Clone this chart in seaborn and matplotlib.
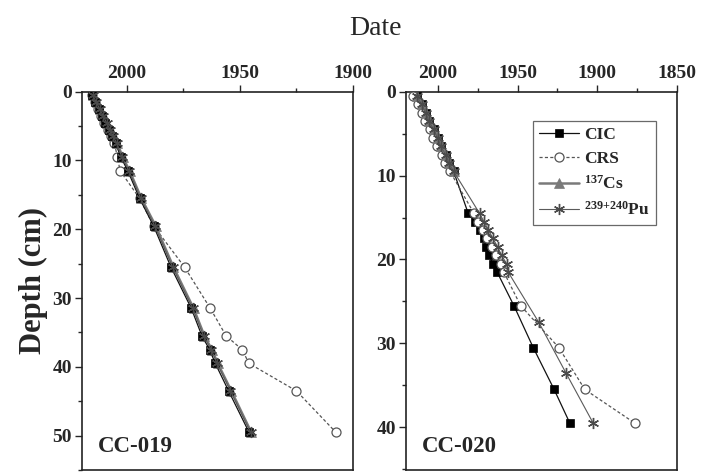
import matplotlib
matplotlib.use("Agg")
import matplotlib.pyplot as plt
import seaborn as sns
import numpy as np
from matplotlib.ticker import MultipleLocator

# ---------------- data ----------------
# CC-019
d19_cic = [0.5, 1.5, 2.5, 3.5, 4.5, 5.5, 6.5, 7.5, 9.5, 11.5, 15.5, 19.5, 25.5, 31.5, 35.5, 37.5, 39.5, 43.5, 49.5]
y19_cic = [2015.5, 2014.0, 2012.5, 2011.0, 2009.5, 2008.0, 2006.5, 2005.0, 2002.7, 1999.6, 1994.4, 1988.2,
           1980.5, 1971.5, 1966.8, 1963.4, 1960.9, 1955.0, 1946.0]
d19_crs = [0.5, 1.5, 2.5, 3.5, 4.5, 5.5, 6.5, 7.5, 9.5, 11.5, 15.5, 19.5, 25.5, 31.5, 35.5, 37.5, 39.5, 43.5, 49.5]
y19_crs = [2015.6, 2014.2, 2012.8, 2011.3, 2009.9, 2008.4, 2006.9, 2005.5, 2004.2, 2003.0, 1994.4, 1988.2,
           1974.5, 1963.1, 1956.1, 1949.0, 1946.0, 1925.0, 1907.6]
d19_cs = [0.5, 1.5, 2.5, 3.5, 4.5, 5.5, 6.5, 7.5, 9.5, 11.5, 15.5, 19.5, 25.5, 31.5, 35.5, 37.5, 39.5, 43.5, 49.5]
y19_cs = [2014.8, 2013.3, 2011.7, 2010.2, 2008.7, 2007.2, 2005.7, 2004.2, 2001.9, 1998.8, 1993.6, 1987.3,
           1979.4, 1970.5, 1965.7, 1962.4, 1959.8, 1953.8, 1945.0]
d19_pu = [0.5, 1.5, 2.5, 3.5, 4.5, 5.5, 6.5, 7.5, 9.5, 11.5, 15.5, 19.5, 25.5, 31.5, 35.5, 37.5, 39.5, 43.5, 49.5]
y19_pu = [2015.1, 2013.6, 2012.0, 2010.5, 2009.0, 2007.5, 2006.0, 2004.5, 2002.2, 1999.1, 1993.9, 1987.7,
           1979.8, 1970.9, 1966.1, 1962.7, 1960.1, 1954.2, 1945.3]

# CC-020
d20_cic = [0.5, 1.5, 2.5, 3.5, 4.5, 5.5, 6.5, 7.5, 8.5, 9.5, 14.5, 15.5, 16.5, 17.5, 18.5, 19.5, 20.5, 21.5,
           25.5, 30.5, 35.5, 39.5]
y20_cic = [2013.0, 2010.0, 2007.5, 2005.5, 2002.5, 2000.0, 1998.0, 1995.0, 1993.0, 1990.0,
           1980.9, 1976.7, 1973.5, 1971.0, 1969.8, 1967.7, 1965.6, 1962.8,
           1952.3, 1940.2, 1927.1, 1917.3]
d20_crs = [0.5, 1.5, 2.5, 3.5, 4.5, 5.5, 6.5, 7.5, 8.5, 9.5, 14.5, 15.5, 16.5, 17.5, 18.5, 19.5, 20.5, 21.5,
           25.5, 30.5, 35.5, 39.5]
y20_crs = [2015.4, 2012.3, 2010.0, 2008.0, 2004.8, 2002.7, 2000.6, 1997.4, 1995.4, 1992.3,
           1977.3, 1974.5, 1971.7, 1968.9, 1966.0, 1963.6, 1960.6, 1958.6,
           1948.1, 1924.2, 1907.9, 1876.7]
d20_cs = [0.5, 1.5, 2.5, 3.5, 4.5, 5.5, 6.5, 7.5, 8.5, 9.5]
y20_cs = [2013.0, 2010.0, 2007.5, 2005.5, 2002.5, 2000.0, 1998.0, 1995.0, 1993.0, 1990.0]
d20_pu = [0.5, 1.5, 2.5, 3.5, 4.5, 5.5, 6.5, 7.5, 8.5, 9.5, 14.5, 15.5, 16.5, 17.5, 18.5, 19.5, 20.5, 21.5,
          27.5, 33.5, 39.5]
y20_pu = [2013.0, 2010.0, 2007.5, 2005.5, 2002.5, 2000.0, 1998.0, 1995.0, 1993.0, 1990.0,
          1973.8, 1971.0, 1968.2, 1965.4, 1962.5, 1960.0, 1956.9, 1955.9,
          1936.7, 1919.8, 1902.7]

labels = ["CIC", "CRS", r"$\mathbf{^{137}}$Cs", r"$\mathbf{^{239{+}240}}$Pu"]
panel_names = ["CC-019", "CC-020"]
x_ticks = [[2000, 1950, 1900], [2000, 1950, 1900, 1850]]

# ---------------- style ----------------
sns.set_style("ticks")
plt.rcParams["font.family"] = ["Liberation Serif", "DejaVu Serif"]
plt.rcParams["mathtext.fontset"] = "custom"
plt.rcParams["mathtext.rm"] = "Liberation Serif"
plt.rcParams["mathtext.bf"] = "Liberation Serif:bold"

fig = plt.figure(figsize=(7.12, 4.76), dpi=100)
ax1 = fig.add_axes([0.1147, 0.0126, 0.381, 0.7948])
ax2 = fig.add_axes([0.5698, 0.0126, 0.3815, 0.7948])

styles = [
    dict(color="#111111", marker="s", linestyle="-", linewidth=0.9, markersize=6,
         markerfacecolor="#000000", markeredgecolor="#000000", markeredgewidth=0.5),
    dict(color="#555555", marker="o", linestyle=(0, (2.5, 1.8)), linewidth=0.9, markersize=6.5,
         markerfacecolor="white", markeredgecolor="#555555", markeredgewidth=0.9),
    dict(color="#7a7a7a", marker="^", linestyle="-", linewidth=1.8, markersize=6.5,
         markerfacecolor="#7a7a7a", markeredgecolor="#7a7a7a", markeredgewidth=0.5),
    dict(color="#5a5a5a", marker=(6, 2, 0), linestyle="-", linewidth=0.8, markersize=8,
         markeredgecolor="#4a4a4a", markeredgewidth=1.0),
]

series = [
    [(y19_cic, d19_cic), (y19_crs, d19_crs), (y19_cs, d19_cs), (y19_pu, d19_pu)],
    [(y20_cic, d20_cic), (y20_crs, d20_crs), (y20_cs, d20_cs), (y20_pu, d20_pu)],
]
zorders = [[5, 3, 4, 6], [3, 4, 5, 6]]

for k, (ax, ser) in enumerate(zip([ax1, ax2], series)):
    for i in range(4):
        xs, ys = ser[i]
        sns.lineplot(x=xs, y=ys, ax=ax, sort=False, estimator=None,
                     label=labels[i], legend=False, zorder=zorders[k][i], **styles[i])

ax1.set_xlim(2020, 1900)
ax1.set_ylim(55, 0)
ax2.set_xlim(2020, 1850)
ax2.set_ylim(45.1, 0)

for k, ax in enumerate([ax1, ax2]):
    ax.xaxis.tick_top()
    ax.set_xticks(x_ticks[k])
    ax.xaxis.set_minor_locator(MultipleLocator(25))
    ax.yaxis.set_major_locator(MultipleLocator(10))
    ax.yaxis.set_minor_locator(MultipleLocator(5))
    ax.tick_params(axis="both", which="major", direction="out", length=5, width=1.0,
                   labelsize=14, pad=2)
    ax.tick_params(axis="both", which="minor", direction="out", length=3, width=1.0)
    ax.tick_params(axis="x", which="both", top=True, bottom=False)
    ax.tick_params(axis="y", which="both", left=True, right=False)
    for lab in ax.get_xticklabels() + ax.get_yticklabels():
        lab.set_fontweight("bold")
    for sp in ax.spines.values():
        sp.set_visible(True)
        sp.set_linewidth(1.2)
        sp.set_color("#222222")
    ax.set_xlabel("")
    ax.set_ylabel("")
    ax.text(0.06, 0.035, panel_names[k], transform=ax.transAxes, fontsize=16.5,
            fontweight="bold", ha="left", va="bottom")

ax1.set_ylabel("Depth (cm)", fontsize=22, fontweight="bold", labelpad=3)

handles, labs = ax2.get_legend_handles_labels()
hmap = dict(zip(labs, handles))
leg = ax2.legend([hmap[l] for l in labels], labels, loc="upper right",
                 bbox_to_anchor=(0.921, 0.9225), borderaxespad=0.0, frameon=True,
                 fancybox=False, edgecolor="#444444", fontsize=12.5, handlelength=2.3,
                 labelspacing=0.45, borderpad=0.35, handletextpad=0.3)
leg.get_frame().set_linewidth(0.9)
for t in leg.get_texts():
    t.set_fontweight("bold")

fig.text(0.528, 0.94, "Date", fontsize=20, ha="center", va="center")

fig.savefig("out.png", dpi=100, facecolor="white")
